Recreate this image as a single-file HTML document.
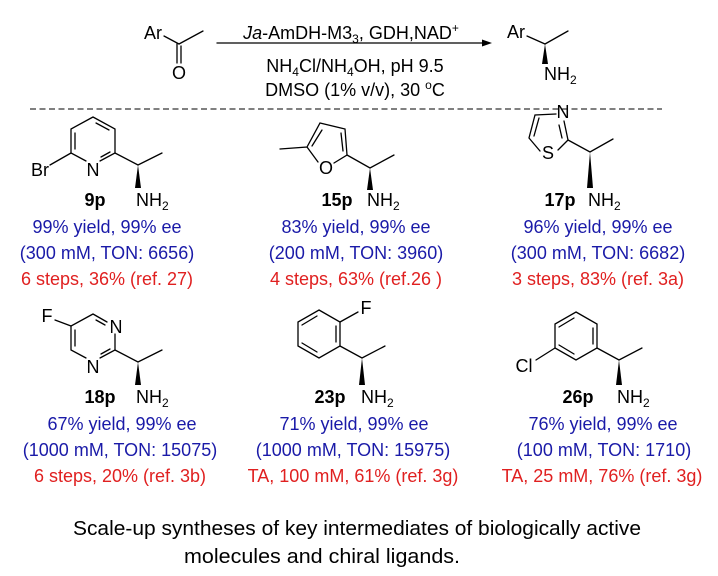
<!DOCTYPE html>
<html><head><meta charset="utf-8"><style>
html,body{margin:0;padding:0;background:#fff;}
svg{display:block;}
text{font-family:"Liberation Sans",Arial,sans-serif;}
</style></head><body>
<svg width="718" height="576" viewBox="0 0 718 576" xmlns="http://www.w3.org/2000/svg">
<g stroke="#000" stroke-width="1.3" fill="none" stroke-linecap="round">
<line x1="164" y1="36" x2="179" y2="44"/><line x1="179" y1="44" x2="203" y2="31"/>
<line x1="177" y1="44" x2="177" y2="63"/><line x1="181" y1="46" x2="181" y2="63"/>
<line x1="217" y1="43" x2="484" y2="43"/>
<line x1="527" y1="36" x2="545" y2="44"/><line x1="545" y1="44" x2="568" y2="31"/>
<line x1="30" y1="109" x2="662" y2="109" stroke-dasharray="6 3.5" stroke-linecap="butt" stroke-width="1"/>
<!-- 9p -->
<path d="M93 117L115 129L115 153L100 161M86 161L71 153L71 129L93 117"/>
<line x1="75" y1="133" x2="75" y2="149"/><line x1="96" y1="123" x2="109" y2="130"/><line x1="101" y1="157" x2="110" y2="152"/>
<line x1="50" y1="165" x2="71" y2="153"/>
<path d="M115 153L138 165L162 153"/>
<!-- 15p -->
<path d="M280 149L307 147L320 123L345 129L347 155L334 163M318 162L307 147"/>
<line x1="312" y1="146" x2="322" y2="130"/><line x1="341" y1="133" x2="343" y2="151"/>
<path d="M347 155L370 168L394 155"/>
<!-- 17p -->
<path d="M564 121L568 140L558 150M540 151L529 138L535 115L556 114"/>
<line x1="563" y1="124" x2="566" y2="137" transform="translate(-4,1)"/>
<line x1="539" y1="118" x2="534" y2="136"/>
<path d="M568 140L590 152L613 139"/>
<!-- 18p -->
<path d="M93 314L107 322M115 334L115 350L100 358M86 358L71 350L71 326L93 314"/>
<line x1="75" y1="330" x2="75" y2="346"/><line x1="96" y1="320" x2="105" y2="325"/><line x1="101" y1="354" x2="110" y2="349"/>
<line x1="55" y1="320" x2="71" y2="326"/>
<path d="M115 350L138 362L162 350"/>
<!-- 23p -->
<path d="M319 310L340 322L340 346L319 358L298 346L298 322Z"/>
<line x1="302" y1="325" x2="317" y2="316"/><line x1="336" y1="326" x2="336" y2="342"/><line x1="302" y1="343" x2="317" y2="352"/>
<line x1="340" y1="322" x2="358" y2="312"/>
<path d="M340 346L362 358L385 346"/>
<!-- 26p -->
<path d="M576 312L597 324L597 348L576 360L555 348L555 324Z"/>
<line x1="559" y1="327" x2="574" y2="318"/><line x1="593" y1="328" x2="593" y2="344"/><line x1="559" y1="345" x2="574" y2="354"/>
<line x1="536" y1="360" x2="555" y2="348"/>
<path d="M597 348L619 360L642 348"/>
</g>
<g fill="#000">
<polygon points="492,43 482,39.5 482,46.5"/>
<polygon points="545,44 542,64 548,64"/>
<polygon points="138,165 135,188 141,188"/>
<polygon points="370,168 367,190 373,190"/>
<polygon points="590,152 587,188 593,188"/>
<polygon points="138,362 135,385 141,385"/>
<polygon points="362,358 359,385 365,385"/>
<polygon points="619,360 616,385 622,385"/>
</g>
<g font-size="18" fill="#000">
<text x="153" y="39" text-anchor="middle">Ar</text>
<text x="179" y="79" text-anchor="middle">O</text>
<text x="351" y="39" text-anchor="middle"><tspan font-style="italic">Ja</tspan>-AmDH-M3<tspan font-size="12" dy="4">3</tspan><tspan dy="-4">, GDH,NAD</tspan><tspan font-size="12" dy="-7">+</tspan></text>
<text x="355" y="72" text-anchor="middle">NH<tspan font-size="12" dy="4">4</tspan><tspan dy="-4">Cl/NH</tspan><tspan font-size="12" dy="4">4</tspan><tspan dy="-4">OH, pH 9.5</tspan></text>
<text x="355" y="96" text-anchor="middle">DMSO (1% v/v),  30 <tspan font-size="12" dy="-7">o</tspan><tspan dy="7">C</tspan></text>
<text x="516" y="38" text-anchor="middle">Ar</text>
<text x="544" y="80">NH<tspan font-size="12" dy="4">2</tspan></text>

<text x="40" y="176" text-anchor="middle">Br</text>
<text x="93" y="176" text-anchor="middle">N</text>
<text x="136" y="206">NH<tspan font-size="12" dy="4">2</tspan></text>
<text x="95" y="206" text-anchor="middle" font-weight="bold">9p</text>

<text x="326" y="174" text-anchor="middle">O</text>
<text x="367" y="206">NH<tspan font-size="12" dy="4">2</tspan></text>
<text x="337" y="206" text-anchor="middle" font-weight="bold">15p</text>

<text x="563" y="118" text-anchor="middle">N</text>
<text x="548" y="159" text-anchor="middle">S</text>
<text x="588" y="206">NH<tspan font-size="12" dy="4">2</tspan></text>
<text x="560" y="206" text-anchor="middle" font-weight="bold">17p</text>

<text x="47" y="322" text-anchor="middle">F</text>
<text x="116" y="333" text-anchor="middle">N</text>
<text x="93" y="373" text-anchor="middle">N</text>
<text x="136" y="403">NH<tspan font-size="12" dy="4">2</tspan></text>
<text x="100" y="403" text-anchor="middle" font-weight="bold">18p</text>

<text x="366" y="314" text-anchor="middle">F</text>
<text x="361" y="403">NH<tspan font-size="12" dy="4">2</tspan></text>
<text x="330" y="403" text-anchor="middle" font-weight="bold">23p</text>

<text x="524" y="372" text-anchor="middle">Cl</text>
<text x="617" y="403">NH<tspan font-size="12" dy="4">2</tspan></text>
<text x="578" y="403" text-anchor="middle" font-weight="bold">26p</text>
</g>
<g font-size="18" text-anchor="middle">
<text x="107" y="233" fill="#1a1aa8">99% yield, 99% ee</text>
<text x="107" y="259" fill="#1a1aa8">(300 mM, TON: 6656)</text>
<text x="107" y="285" fill="#e02020">6 steps, 36% (ref. 27)</text>
<text x="356" y="233" fill="#1a1aa8">83% yield, 99% ee</text>
<text x="356" y="259" fill="#1a1aa8">(200 mM, TON: 3960)</text>
<text x="356" y="285" fill="#e02020">4 steps, 63% (ref.26 )</text>
<text x="598" y="233" fill="#1a1aa8">96% yield, 99% ee</text>
<text x="598" y="259" fill="#1a1aa8">(300 mM, TON: 6682)</text>
<text x="598" y="285" fill="#e02020">3 steps, 83% (ref. 3a)</text>

<text x="122" y="430" fill="#1a1aa8">67% yield, 99% ee</text>
<text x="120" y="456" fill="#1a1aa8">(1000 mM, TON: 15075)</text>
<text x="120" y="482" fill="#e02020">6 steps, 20% (ref. 3b)</text>
<text x="354" y="430" fill="#1a1aa8">71% yield, 99% ee</text>
<text x="353" y="456" fill="#1a1aa8">(1000 mM, TON: 15975)</text>
<text x="353" y="482" fill="#e02020">TA, 100 mM, 61% (ref. 3g)</text>
<text x="603" y="430" fill="#1a1aa8">76% yield, 99% ee</text>
<text x="604" y="456" fill="#1a1aa8">(100 mM, TON: 1710)</text>
<text x="602" y="482" fill="#e02020">TA, 25 mM, 76% (ref. 3g)</text>
</g>
<g font-size="20" fill="#000">
<text x="73" y="535" textLength="568" lengthAdjust="spacingAndGlyphs">Scale-up syntheses of key intermediates of biologically active</text>
<text x="184" y="563" textLength="276" lengthAdjust="spacingAndGlyphs">molecules and chiral ligands.</text>
</g>
</svg>
</body></html>
